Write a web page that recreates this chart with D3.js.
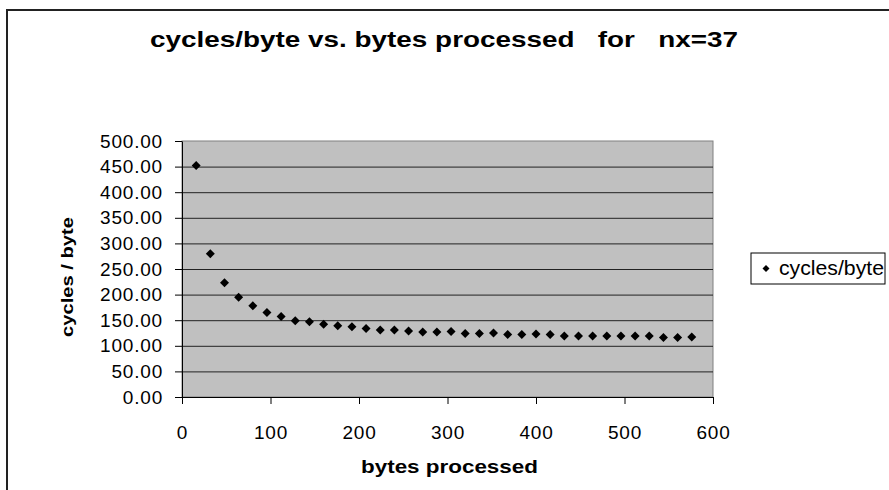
<!DOCTYPE html>
<meta charset="utf-8">
<style>
    body { margin: 0; background: #fff; }
    text { font-family: "Liberation Sans", Arial, sans-serif; fill: #000; }
    .grid line { stroke: #222; stroke-width: 1px; }
    .axis path, .axis line { stroke: #000; }
    .axis text { font-size: 19px; letter-spacing: 0.8px; }
</style>
<svg width="889" height="490"></svg>
<script src="https://d3js.org/d3.v7.min.js"></script>
<script>

    // bytes processed
    var bytes = [16, 32, 48, 64, 80, 96, 112, 128, 144, 160, 176, 192, 208, 224, 240, 256, 272, 288,
        304, 320, 336, 352, 368, 384, 400, 416, 432, 448, 464, 480, 496, 512, 528, 544, 560, 576];
    // cycles/byte
    var cycles = [452, 280, 223, 195, 178, 165, 157, 149, 147, 142, 139, 137, 134, 131, 131, 129, 127, 127,
        128, 124, 124, 125, 122, 122, 123, 122, 119, 119, 119, 119, 119, 119, 119, 116, 116, 117];
    var xTicks = [0, 100, 200, 300, 400, 500, 600];
    var yTicks = [0, 50, 100, 150, 200, 250, 300, 350, 400, 450, 500];

    var svg = d3.select("svg");

    var x = d3.scaleLinear().domain([0, 600]).range([182, 713]);
    var y = d3.scaleLinear().domain([0, 500]).range([397, 141]);

    // outer chart border (top + left visible)
    svg.append("path")
        .attr("d", "M7,490V10H889")
        .attr("fill", "none")
        .attr("stroke", "#222")
        .attr("stroke-width", 2);

    // plot area
    svg.append("rect")
        .attr("x", x(0)).attr("y", y(500))
        .attr("width", x(600) - x(0)).attr("height", y(0) - y(500))
        .attr("fill", "#c0c0c0")
        .attr("stroke", "#808080");

    svg.append("g").attr("class", "grid")
        .selectAll("line")
        .data(yTicks.filter(function (d) { return d > 0 && d < 500; }))
        .enter().append("line")
        .attr("x1", x(0)).attr("x2", x(600))
        .attr("y1", function (d) { return y(d) + 0.5; })
        .attr("y2", function (d) { return y(d) + 0.5; });

    svg.append("g").attr("class", "axis")
        .attr("transform", "translate(0," + y(0) + ")")
        .call(d3.axisBottom(x).tickValues(xTicks).tickSize(7).tickSizeOuter(0).tickPadding(22)
            .tickFormat(d3.format("d")));

    svg.append("g").attr("class", "axis")
        .attr("transform", "translate(" + x(0) + ",0)")
        .call(d3.axisLeft(y).tickValues(yTicks).tickSize(7).tickSizeOuter(0).tickPadding(12)
            .tickFormat(d3.format(".2f")));

    // markers
    var diamond = "M0,-4.5L4.5,0L0,4.5L-4.5,0Z";
    svg.append("g")
        .selectAll("path")
        .data(bytes)
        .enter().append("path")
        .attr("d", diamond)
        .attr("fill", "#000")
        .attr("transform", function (d, i) {
            return "translate(" + x(d) + "," + y(cycles[i]) + ")";
        });

    // titles
    svg.append("text")
        .attr("x", 150).attr("y", 47)
        .attr("textLength", 588)
        .attr("lengthAdjust", "spacingAndGlyphs")
        .style("font-size", "22px").style("font-weight", "bold")
        .style("white-space", "pre")
        .text("cycles/byte vs. bytes processed   for   nx=37");

    svg.append("text")
        .attr("x", 361).attr("y", 473)
        .attr("textLength", 177)
        .attr("lengthAdjust", "spacingAndGlyphs")
        .style("font-size", "18px").style("font-weight", "bold")
        .text("bytes processed");

    svg.append("text")
        .attr("transform", "translate(73,337) rotate(-90)")
        .attr("textLength", 120)
        .attr("lengthAdjust", "spacingAndGlyphs")
        .style("font-size", "17px").style("font-weight", "bold")
        .text("cycles / byte");

    // legend
    var legend = svg.append("g").attr("transform", "translate(751,253)");
    legend.append("rect")
        .attr("width", 134).attr("height", 31)
        .attr("fill", "#fff").attr("stroke", "#000");
    legend.append("path")
        .attr("d", "M0,-3.5L3.5,0L0,3.5L-3.5,0Z")
        .attr("fill", "#000")
        .attr("transform", "translate(15,15.5)");
    legend.append("text")
        .attr("x", 28).attr("y", 22)
        .attr("textLength", 105)
        .attr("lengthAdjust", "spacingAndGlyphs")
        .style("font-size", "20px")
        .text("cycles/byte");

</script>
